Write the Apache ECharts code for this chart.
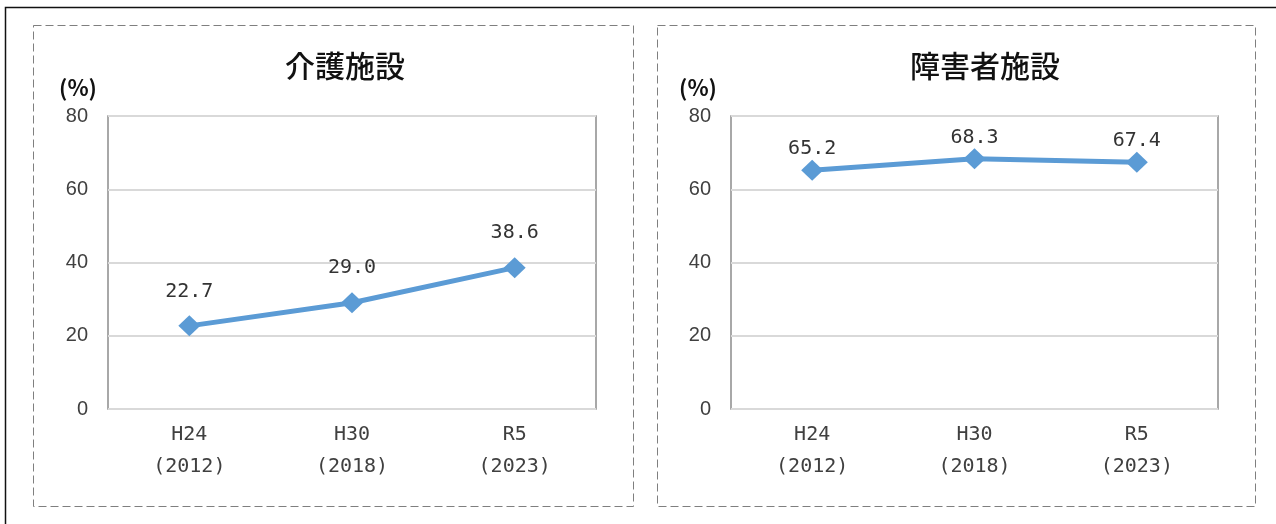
<!DOCTYPE html>
<html lang="ja">
<head>
<meta charset="utf-8">
<title>介護施設・障害者施設</title>
<script src="https://cdn.jsdelivr.net/npm/echarts@6/dist/echarts.min.js"></script>
<style>
  html, body { margin: 0; padding: 0; background: #fff; }
  #chart { width: 1276px; height: 524px; }
</style>
</head>
<body>
<div id="chart"></div>
<script>
// Survey years (era + western year on two lines)
const categories = ['H24\n(2012)', 'H30\n(2018)', 'R5\n(2023)'];
// Rates (%) by facility type
const careFacilities = [22.7, 29.0, 38.6];
const disabilityFacilities = [65.2, 68.3, 67.4];
const panelTitles = ['介護施設', '障害者施設'];
const yTicks = { min: 0, max: 80, interval: 20 };
const unitLabel = '(%)';

const numFont = '"DejaVu Sans Mono", "Liberation Mono", monospace';
const jpFont = '"Noto Sans CJK JP", "Noto Sans", sans-serif';
const lineColor = '#5b9bd5';

const chart = echarts.init(document.getElementById('chart'), null, { renderer: 'canvas' });

const grids = [
  { left: 108, top: 116, width: 488, height: 293 },
  { left: 731, top: 116, width: 487, height: 293 }
];

function xAxis(gridIndex) {
  return {
    type: 'category',
    gridIndex,
    data: categories,
    boundaryGap: true,
    axisLine: { show: false },
    axisTick: { show: false },
    axisLabel: {
      margin: 10,
      fontFamily: numFont,
      fontSize: 20,
      lineHeight: 32,
      color: '#404040'
    }
  };
}

function yAxis(gridIndex) {
  return {
    type: 'value',
    gridIndex,
    min: yTicks.min,
    max: yTicks.max,
    interval: yTicks.interval,
    axisLine: { show: false },
    axisTick: { show: false },
    axisLabel: {
      margin: 20,
      fontFamily: '"Liberation Sans", "DejaVu Sans", sans-serif',
      fontSize: 20,
      color: '#404040'
    },
    splitLine: { lineStyle: { color: '#d9d9d9', width: 2 } }
  };
}

function lineSeries(idx, data, labelDistance) {
  return {
    type: 'line',
    xAxisIndex: idx,
    yAxisIndex: idx,
    data,
    symbol: 'diamond',
    symbolSize: [22, 21],
    lineStyle: { color: lineColor, width: 5 },
    itemStyle: { color: lineColor },
    label: {
      show: true,
      position: 'top',
      distance: labelDistance,
      fontFamily: numFont,
      fontSize: 20,
      color: '#333',
      formatter: p => p.value.toFixed(1)
    },
    animation: false,
    z: 3
  };
}

function panelText(x, y, text, style) {
  return {
    type: 'text',
    x, y,
    style: Object.assign({ text, textAlign: 'center', textVerticalAlign: 'middle' }, style)
  };
}

const option = {
  animation: false,
  grid: grids.map(g => Object.assign({
    show: true,
    borderColor: '#8c8c8c',
    borderWidth: 1.5,
    backgroundColor: 'transparent'
  }, g)),
  xAxis: [xAxis(0), xAxis(1)],
  yAxis: [yAxis(0), yAxis(1)],
  series: [
    lineSeries(0, careFacilities, 14),
    lineSeries(1, disabilityFacilities, 1)
  ],
  graphic: [
    // outer frame (top and left edges)
    { type: 'polyline', shape: { points: [[5.5, 524], [5.5, 7.5], [1276, 7.5]] },
      style: { stroke: '#111', lineWidth: 1.5, fill: null } },
    // dashed panel frames
    { type: 'rect', shape: { x: 33.5, y: 25.5, width: 600, height: 481 },
      style: { stroke: '#7f7f7f', lineWidth: 1, fill: null, lineDash: [8, 4] } },
    { type: 'rect', shape: { x: 657.5, y: 25.5, width: 598, height: 481 },
      style: { stroke: '#7f7f7f', lineWidth: 1, fill: null, lineDash: [8, 4] } },
    // panel titles
    panelText(345, 66, panelTitles[0], { font: '500 30px ' + jpFont, fill: '#111' }),
    panelText(985, 66, panelTitles[1], { font: '500 30px ' + jpFont, fill: '#111' }),
    // unit labels
    panelText(78, 88, unitLabel, { font: 'bold 22px ' + jpFont, fill: '#111' }),
    panelText(698, 88, unitLabel, { font: 'bold 22px ' + jpFont, fill: '#111' })
  ]
};

chart.setOption(option);
</script>
</body>
</html>
